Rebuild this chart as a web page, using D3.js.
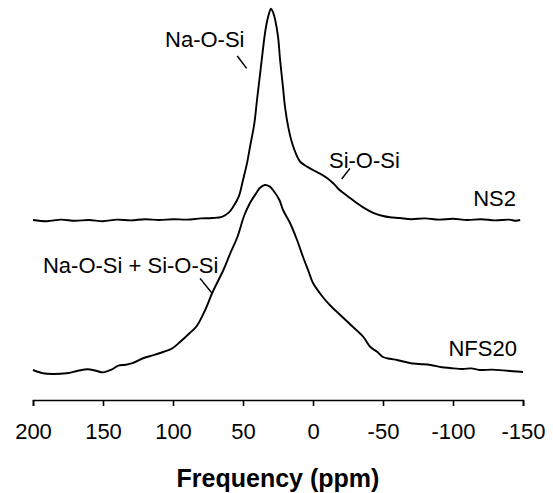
<!DOCTYPE html>
<html>
<head>
<meta charset="utf-8">
<script src="https://cdn.jsdelivr.net/npm/d3@7"></script>
<style>
  body { margin: 0; background: #fff; }
  svg { display: block; font-family: "Liberation Sans", Arial, sans-serif; }
  .spec { fill: none; stroke: #000; stroke-width: 1.9; stroke-linejoin: round; }
  .axis path, .axis line { stroke: #000; stroke-width: 1.6; }
  .axis text { font-size: 22px; fill: #000; }
</style>
</head>
<body>
<svg id="chart" width="553" height="493"></svg>
<script>
//NMR spectra (ppm, intensity above own baseline)
var ns2Ppm = [200,190,180,170,160,150,140,130,120,110,100,90,80,72,65,60,57,53,50,47,45,42,40,38,36,34,32,30,28.5,27,25,23.5,21.5,20,17.5,15,12,9,5,0,-5,-10,-15,-19,-25,-31,-37,-43,-50,-55,-62,-70,-80,-90,-100,-110,-120,-130,-140,-145,-148]
var ns2Int = [0.1,-0.2,0.2,-0.1,0.1,-0.2,0.2,0.0,0.3,0.1,0.3,0.2,0.5,0.6,0.9,2.0,3.4,6.0,10.1,14.5,18.4,24.0,30.1,36.0,42.0,47.5,51.0,52.9,52.0,50.1,46.0,40.1,33.5,28.4,23.0,19.4,16.5,14.6,13.6,12.6,11.7,10.6,9.1,7.6,6.0,4.4,3.0,1.9,1.1,0.8,0.6,0.3,0.5,0.2,0.4,0.1,0.3,0.0,0.2,-0.1,0.1]

var nfsPpm = [200,193,186,176,168,161,155,150,144,139,134,129,121,114,107,101,95,88,83,77,72,64,59,54,49,45,40,38,34.3,31,28.6,24,21.4,16.4,11.4,7.1,3,0,-7,-12,-21,-28.6,-36,-41,-46,-50,-55,-60,-69,-76,-84,-92,-98,-107,-113,-119,-128,-136,-143,-150]
var nfsInt = [0.5,-0.3,-0.5,-0.3,0.3,0.7,0.3,-0.1,0.6,1.6,1.8,2.2,3.5,4.2,5.0,5.8,7.5,9.75,11.5,15.5,19.75,25.5,29.75,33.75,39.25,42.25,45.0,46.0,46.75,46.4,45.5,43,40.5,37.25,33,28.75,25,22.25,18.75,16.75,13.75,11.25,8.75,6.25,5.0,3.75,3.3,3.0,2.25,2.0,1.75,1.2,1.0,0.75,0.9,0.5,0.6,0.4,0.2,0]

var seriesNames = ['NS2', 'NFS20']
var seriesOffsets = [44.9, 7] //vertical stacking of the two traces
var xTicks = [200, 150, 100, 50, 0, -50, -100, -150]

//annotation labels in data space: [ppm, intensity]
var notes = [
  {text: 'Na-O-Si', at: [105.7, 88.25], line: [[54.1, 86], [47.4, 82.9]]},
  {text: 'Si-O-Si', at: [-11.4, 58], line: [[-26.4, 57.9], [-20.5, 55.25]]},
  {text: 'Na-O-Si + Si-O-Si', at: [192.9, 31.75], line: [[80.7, 30.4], [72.4, 26.8]]}
]
var nameAt = [[-145, 48.5], [-145.7, 11]]

var svg = d3.select('#chart')
var x = d3.scaleLinear().domain([200, -150]).range([33, 523])
var y = d3.scaleLinear().domain([0, 100]).range([400, 0])

var traces = [
  d3.zip(ns2Ppm, ns2Int),
  d3.zip(nfsPpm, nfsInt)
]

traces.forEach(function(pts, i) {
  var off = seriesOffsets[i]
  var line = d3.line()
    .x(function(d) { return x(d[0]) })
    .y(function(d) { return y(d[1] + off) })
    .curve(d3.curveCatmullRom.alpha(0.5))
  svg.append('path').attr('class', 'spec').attr('d', line(pts))
  svg.append('text')
    .attr('x', x(nameAt[i][0])).attr('y', y(nameAt[i][1]))
    .attr('text-anchor', 'end').style('font-size', '22px')
    .text(seriesNames[i])
})

notes.forEach(function(n) {
  svg.append('text')
    .attr('x', x(n.at[0])).attr('y', y(n.at[1]))
    .style('font-size', '22px')
    .text(n.text)
  svg.append('line')
    .attr('x1', x(n.line[0][0])).attr('y1', y(n.line[0][1]))
    .attr('x2', x(n.line[1][0])).attr('y2', y(n.line[1][1]))
    .attr('stroke', '#000').attr('stroke-width', 1.5)
})

svg.append('g').attr('class', 'axis')
  .attr('transform', 'translate(0,400)')
  .call(d3.axisBottom(x).tickValues(xTicks).tickSize(6).tickPadding(17)
    .tickFormat(function(d) { return String(d) })) //plain hyphen, not unicode minus

svg.append('text')
  .attr('x', (x.range()[0] + x.range()[1]) / 2).attr('y', 487)
  .attr('text-anchor', 'middle')
  .style('font-size', '25px').style('font-weight', 'bold')
  .text('Frequency (ppm)')
</script>
</body>
</html>
